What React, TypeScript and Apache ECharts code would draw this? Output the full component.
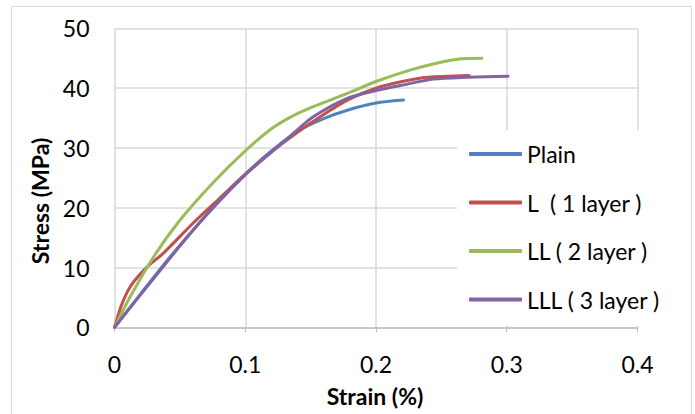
import React, { useEffect, useRef } from "react";
import * as echarts from "echarts";

const seriesNames = ["Plain", "L  ( 1 layer )", "LL ( 2 layer )", "LLL ( 3 layer )"];
const seriesColors = ["#4F81BD", "#C0504D", "#9BBB59", "#8064A2"];

const plain: number[][] = [
  [0, 0], [0.02, 5.6], [0.04, 11.1], [0.063, 17], [0.08, 21.1], [0.1, 25.6],
  [0.12, 29.5], [0.14, 32.8], [0.16, 34.9], [0.178, 36.3], [0.2, 37.5], [0.221, 38],
];
const layer1: number[][] = [
  [0, 0], [0.005, 3.5], [0.01, 6], [0.015, 7.7], [0.025, 10.1], [0.0374, 12.4],
  [0.06, 17.4], [0.08, 21.5], [0.1, 25.6], [0.12, 29.3], [0.14, 32.6], [0.16, 35.6],
  [0.18, 38.2], [0.2, 40], [0.22, 41.1], [0.24, 41.8], [0.271, 42.1],
];
const layer2: number[][] = [
  [0, 0], [0.012, 5.1], [0.03, 11.8], [0.05, 17.9], [0.075, 24.1], [0.1, 29.5],
  [0.12, 33.2], [0.135, 35.2], [0.152, 36.9], [0.178, 39.1], [0.2, 41.1],
  [0.226, 43], [0.247, 44.2], [0.265, 44.9], [0.281, 45],
];
const layer3: number[][] = [
  [0, 0], [0.022, 6.0], [0.0477, 13.0], [0.065, 17.5], [0.08, 21.1], [0.1, 25.5],
  [0.12, 29.3], [0.134, 31.9], [0.152, 35.2], [0.178, 38.3], [0.2, 39.6],
  [0.22, 40.5], [0.244, 41.5], [0.27, 41.8], [0.301, 42],
];
const allData = [plain, layer1, layer2, layer3];

const xTitle = "Strain (%)";
const yTitle = "Stress (MPa)";
const FONT = "Lato, 'Open Sans', sans-serif";

export default function App() {
  const ref = useRef<HTMLDivElement>(null);
  useEffect(() => {
    if (!ref.current) return;
    const chart = echarts.init(ref.current, undefined, { renderer: "svg" });
    chart.setOption({
      animation: false,
      backgroundColor: "#fff",
      textStyle: { fontFamily: FONT },
      graphic: [
        {
          type: "rect",
          shape: { x: 11.5, y: 6.5, width: 680, height: 420 },
          style: { fill: "none", stroke: "#d9d9d9", lineWidth: 1 },
          z: 0,
        },
        {
          type: "text",
          x: 40,
          y: 201,
          rotation: Math.PI / 2,
          style: {
            text: yTitle,
            font: `bold 23px ${FONT}`,
            fill: "#000",
            align: "center",
            verticalAlign: "middle",
          },
        },
        {
          type: "text",
          x: 375,
          y: 396,
          style: {
            text: xTitle,
            font: `bold 23px ${FONT}`,
            fill: "#000",
            align: "center",
            verticalAlign: "middle",
          },
        },
      ],
      grid: { left: 114.5, right: 57.5, top: 28.3, bottom: 86.7, containLabel: false },
      xAxis: {
        type: "value",
        min: 0,
        max: 0.4,
        interval: 0.1,
        axisLine: { show: true, lineStyle: { color: "#bfbfbf", width: 1.5 } },
        axisTick: { show: true, length: 5, lineStyle: { color: "#bfbfbf" } },
        axisLabel: { color: "#000", fontSize: 23, margin: 25, fontFamily: FONT },
        splitLine: { show: true, lineStyle: { color: "#d9d9d9", width: 1.5 } },
      },
      yAxis: {
        type: "value",
        min: 0,
        max: 50,
        interval: 10,
        axisLine: { show: false },
        axisTick: { show: false },
        axisLabel: { color: "#000", fontSize: 23, margin: 25, fontFamily: FONT },
        splitLine: { show: true, lineStyle: { color: "#d9d9d9", width: 1.5 } },
      },
      legend: {
        orient: "vertical",
        left: 457,
        top: 130,
        backgroundColor: "#fff",
        padding: [12, 20, 14, 12],
        itemGap: 24.5,
        itemWidth: 53,
        itemHeight: 4,
        icon: "roundRect",
        textStyle: { color: "#000", fontSize: 23, lineHeight: 24, fontFamily: FONT },
        data: seriesNames,
        z: 10,
      },
      series: allData.map((d, i) => ({
        name: seriesNames[i],
        type: "line",
        data: d,
        smooth: 0.25,
        showSymbol: false,
        symbol: "none",
        color: seriesColors[i],
        lineStyle: { width: 3, color: seriesColors[i], cap: "round" },
      })),
    });
    return () => chart.dispose();
  }, []);
  return (
    <div
      ref={ref}
      style={{ position: "fixed", left: 0, top: 0, width: 695, height: 414 }}
    />
  );
}
